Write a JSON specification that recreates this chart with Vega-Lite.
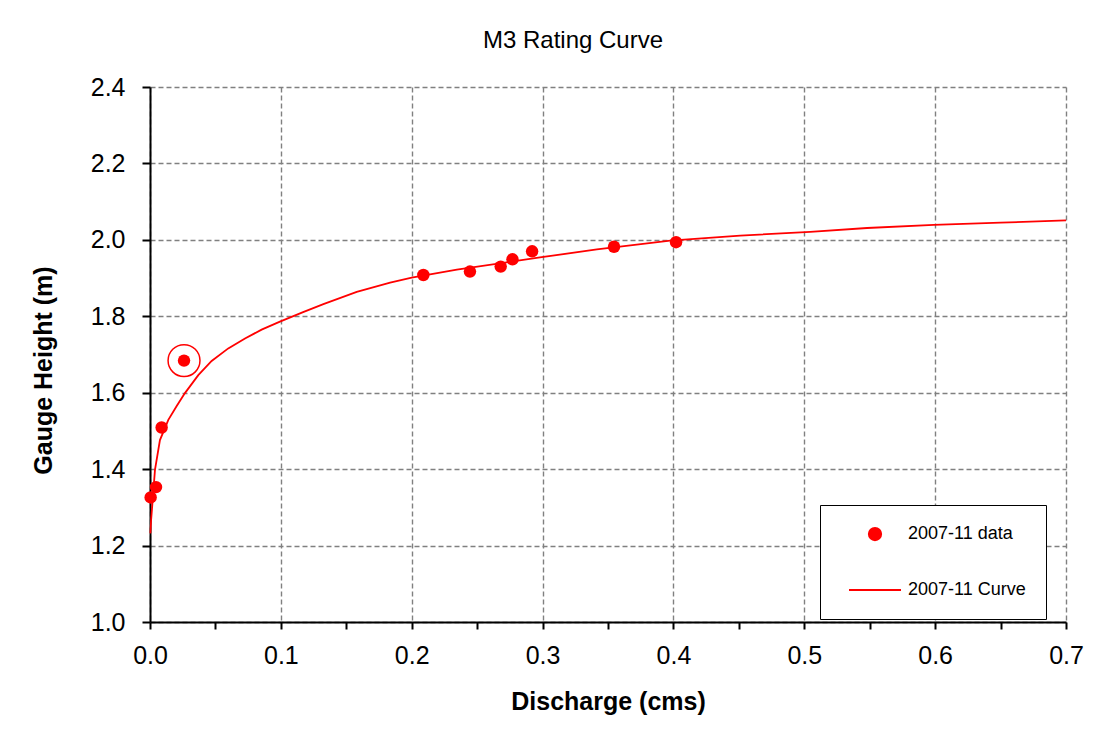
{
  "$schema": "https://vega.github.io/schema/vega-lite/v6.json",
  "autosize": {"type": "none"},
  "width": 916,
  "height": 535,
  "padding": {"left": 150, "top": 87, "right": 43, "bottom": 110},
  "background": "white",
  "config": {
    "view": {"stroke": null},
    "font": "Liberation Sans",
    "axis": {
      "labelFont": "Liberation Sans",
      "titleFont": "Liberation Sans",
      "labelColor": "black",
      "titleColor": "black",
      "domainColor": "black",
      "domainWidth": 2,
      "tickColor": "black",
      "tickWidth": 2,
      "gridColor": "#808080",
      "gridDash": [5, 3],
      "gridWidth": 1.4
    }
  },
  "title": {
    "text": "M3 Rating Curve",
    "font": "Liberation Sans",
    "fontSize": 24,
    "fontWeight": "normal",
    "color": "black",
    "baseline": "alphabetic",
    "offset": 3,
    "dx": -35
  },
  "datasets": {
    "points": [
      {"q": 0.0005, "h": 1.326, "series": "2007-11 data"},
      {"q": 0.0046, "h": 1.353, "series": "2007-11 data"},
      {"q": 0.0089, "h": 1.509, "series": "2007-11 data"},
      {"q": 0.026, "h": 1.684, "series": "2007-11 data"},
      {"q": 0.2089, "h": 1.908, "series": "2007-11 data"},
      {"q": 0.2445, "h": 1.917, "series": "2007-11 data"},
      {"q": 0.268, "h": 1.930, "series": "2007-11 data"},
      {"q": 0.277, "h": 1.949, "series": "2007-11 data"},
      {"q": 0.292, "h": 1.970, "series": "2007-11 data"},
      {"q": 0.3546, "h": 1.982, "series": "2007-11 data"},
      {"q": 0.402, "h": 1.994, "series": "2007-11 data"}
    ],
    "curve": [
      {"q": 0.0003, "h": 1.232, "series": "2007-11 Curve"},
      {"q": 0.0008, "h": 1.265, "series": "2007-11 Curve"},
      {"q": 0.0015, "h": 1.295, "series": "2007-11 Curve"},
      {"q": 0.0038, "h": 1.398, "series": "2007-11 Curve"},
      {"q": 0.0076, "h": 1.476, "series": "2007-11 Curve"},
      {"q": 0.014, "h": 1.529, "series": "2007-11 Curve"},
      {"q": 0.0204, "h": 1.565, "series": "2007-11 Curve"},
      {"q": 0.0267, "h": 1.599, "series": "2007-11 Curve"},
      {"q": 0.0369, "h": 1.646, "series": "2007-11 Curve"},
      {"q": 0.0471, "h": 1.683, "series": "2007-11 Curve"},
      {"q": 0.0598, "h": 1.716, "series": "2007-11 Curve"},
      {"q": 0.0726, "h": 1.742, "series": "2007-11 Curve"},
      {"q": 0.0853, "h": 1.765, "series": "2007-11 Curve"},
      {"q": 0.0993, "h": 1.786, "series": "2007-11 Curve"},
      {"q": 0.117, "h": 1.811, "series": "2007-11 Curve"},
      {"q": 0.1325, "h": 1.832, "series": "2007-11 Curve"},
      {"q": 0.158, "h": 1.864, "series": "2007-11 Curve"},
      {"q": 0.1835, "h": 1.888, "series": "2007-11 Curve"},
      {"q": 0.2, "h": 1.901, "series": "2007-11 Curve"},
      {"q": 0.2345, "h": 1.922, "series": "2007-11 Curve"},
      {"q": 0.298, "h": 1.954, "series": "2007-11 Curve"},
      {"q": 0.3415, "h": 1.975, "series": "2007-11 Curve"},
      {"q": 0.3975, "h": 1.998, "series": "2007-11 Curve"},
      {"q": 0.451, "h": 2.011, "series": "2007-11 Curve"},
      {"q": 0.5045, "h": 2.021, "series": "2007-11 Curve"},
      {"q": 0.548, "h": 2.031, "series": "2007-11 Curve"},
      {"q": 0.599, "h": 2.039, "series": "2007-11 Curve"},
      {"q": 0.65, "h": 2.045, "series": "2007-11 Curve"},
      {"q": 0.7, "h": 2.051, "series": "2007-11 Curve"}
    ],
    "ring": [
      {"q": 0.026, "h": 1.684}
    ]
  },
  "encoding": {
    "x": {
      "field": "q",
      "type": "quantitative",
      "title": "Discharge (cms)",
      "scale": {"domain": [0, 0.7], "nice": false, "zero": false},
      "axis": {
        "values": [0, 0.05, 0.1, 0.15, 0.2, 0.25, 0.3, 0.35, 0.4, 0.45, 0.5, 0.55, 0.6, 0.65, 0.7],
        "labelExpr": "round(datum.value * 20) % 2 == 0 ? format(datum.value, '.1f') : ''",
        "gridOpacity": {"condition": {"test": "round(datum.value * 20) % 2 == 0", "value": 1}, "value": 0},
        "labelFontSize": 25,
        "labelBaseline": "alphabetic",
        "labelPadding": 34,
        "labelFlush": false,
        "labelOverlap": false,
        "tickSize": 7,
        "titleFontSize": 25,
        "titleFontWeight": "bold",
        "titleBaseline": "alphabetic",
        "titleY": 87
      }
    },
    "y": {
      "field": "h",
      "type": "quantitative",
      "title": "Gauge Height (m)",
      "scale": {"domain": [1.0, 2.4], "nice": false, "zero": false},
      "axis": {
        "values": [1.0, 1.2, 1.4, 1.6, 1.8, 2.0, 2.2, 2.4],
        "format": ".1f",
        "labelFontSize": 25,
        "labelPadding": 17,
        "labelFlush": false,
        "labelOverlap": false,
        "tickSize": 8,
        "titleFontSize": 25,
        "titleFontWeight": "bold",
        "titleAngle": 270,
        "titleBaseline": "alphabetic",
        "titleAlign": "center",
        "titleX": -99,
        "titleY": 283
      }
    }
  },
  "layer": [
    {
      "data": {"name": "curve"},
      "mark": {"type": "line", "strokeWidth": 1.8, "interpolate": "linear"},
      "encoding": {
        "color": {
          "field": "series",
          "type": "nominal",
          "scale": {"domain": ["2007-11 data", "2007-11 Curve"], "range": ["#ff0000", "#ff0000"]},
          "legend": {
            "title": null,
            "orient": "none",
            "legendX": 670,
            "legendY": 418,
            "padding": 20,
            "symbolOffset": 8,
            "strokeColor": "black",
            "fillColor": "white",
            "labelFont": "Liberation Sans",
            "labelFontSize": 18,
            "labelColor": "black",
            "labelOffset": 6,
            "labelExpr": "datum.label + '\u00a0\u00a0\u00a0\u00a0'",
            "rowPadding": 19,
            "symbolStrokeColor": "#ff0000",
            "symbolStrokeWidth": 1.8
          }
        }
      }
    },
    {
      "data": {"name": "points"},
      "mark": {"type": "point", "filled": true, "opacity": 1},
      "encoding": {
        "color": {"field": "series", "type": "nominal"},
        "shape": {
          "field": "series",
          "type": "nominal",
          "scale": {"domain": ["2007-11 data", "2007-11 Curve"], "range": ["circle", "stroke"]}
        },
        "size": {
          "field": "series",
          "type": "nominal",
          "scale": {"domain": ["2007-11 data", "2007-11 Curve"], "range": [155, 2704]}
        }
      }
    },
    {
      "data": {"name": "ring"},
      "mark": {"type": "point", "filled": false, "shape": "circle", "size": 1018, "stroke": "#ff0000", "strokeWidth": 1.5, "opacity": 1},
      "encoding": {}
    }
  ]
}
